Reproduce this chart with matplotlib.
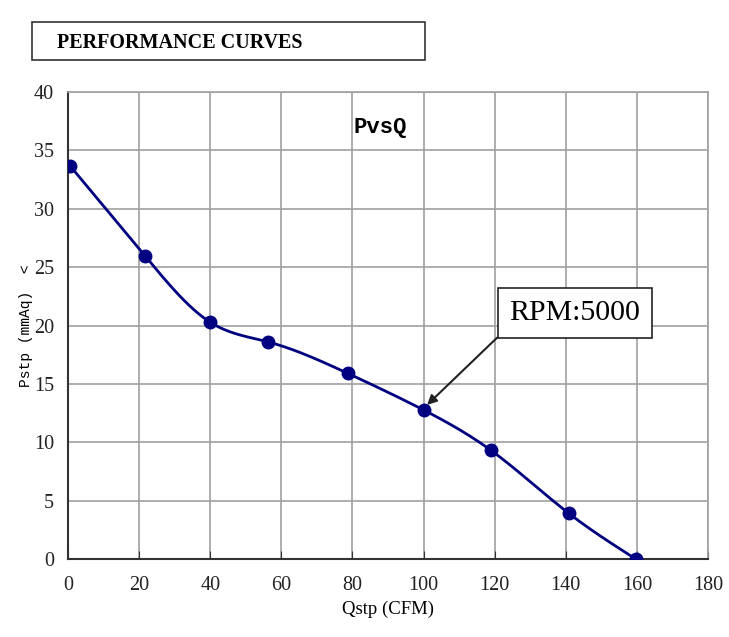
import numpy as np
import matplotlib
matplotlib.use("Agg")
import matplotlib.pyplot as plt
from matplotlib.patches import Rectangle

# Data
flow_cfm = [0.5, 21.7, 39.9, 56.2, 78.7, 100.1, 119.0, 140.9, 159.7]
pressure_mmaq = [33.7, 25.95, 20.3, 18.6, 15.9, 12.75, 9.3, 3.9, 0.0]
x_ticks = [0, 20, 40, 60, 80, 100, 120, 140, 160, 180]
y_ticks = [0, 5, 10, 15, 20, 25, 30, 35, 40]


def natural_spline(x, y, n=400):
    # natural cubic spline through the measured points, only used to draw the smooth line
    x = np.asarray(x, float)
    y = np.asarray(y, float)
    m = len(x)
    h = np.diff(x)
    A = np.zeros((m, m))
    b = np.zeros(m)
    A[0, 0] = A[-1, -1] = 1
    for i in range(1, m - 1):
        A[i, i - 1] = h[i - 1]
        A[i, i] = 2 * (h[i - 1] + h[i])
        A[i, i + 1] = h[i]
        b[i] = 3 * ((y[i + 1] - y[i]) / h[i] - (y[i] - y[i - 1]) / h[i - 1])
    c = np.linalg.solve(A, b)
    xs = np.linspace(x[0], x[-1], n)
    ys = np.empty_like(xs)
    for k, xv in enumerate(xs):
        i = min(np.searchsorted(x, xv, side="right") - 1, m - 2)
        dx = xv - x[i]
        bi = (y[i + 1] - y[i]) / h[i] - h[i] * (2 * c[i] + c[i + 1]) / 3
        di = (c[i + 1] - c[i]) / (3 * h[i])
        ys[k] = y[i] + bi * dx + c[i] * dx ** 2 + di * dx ** 3
    return xs, ys


fig = plt.figure(figsize=(7.29, 6.37), dpi=100)
ax = fig.add_axes([0.0933, 0.1224, 0.8779, 0.7332])

navy = "#000080"
xs, ys = natural_spline(flow_cfm, pressure_mmaq)
ax.plot(xs, ys, color=navy, linewidth=2, zorder=3)
ax.plot(flow_cfm, pressure_mmaq, "o", color=navy, markersize=9, zorder=4)

ax.set_xlim(0, 180)
ax.set_ylim(0, 40)
ax.set_xticks(x_ticks)
ax.set_yticks(y_ticks)
ax.grid(True, color="#a0a0a0", linewidth=1.2)
ax.set_axisbelow(True)
ax.tick_params(axis="x", direction="in", length=6, color="#333333", pad=12)
ax.tick_params(axis="y", length=0, pad=10)
for lbl in ax.get_xticklabels() + ax.get_yticklabels():
    lbl.set_fontfamily("Liberation Serif")
    lbl.set_fontsize(14.5)
    lbl.set_color("#222222")

for side in ["top", "right"]:
    ax.spines[side].set_color("#a0a0a0")
    ax.spines[side].set_linewidth(1.2)
for side in ["left", "bottom"]:
    ax.spines[side].set_color("#333333")
    ax.spines[side].set_linewidth(1.5)

ax.set_xlabel("Qstp (CFM)", fontfamily="Liberation Serif", fontsize=13.5, labelpad=4)
ax.set_ylabel("Pstp (mmAq)  <", fontfamily="Liberation Mono", fontsize=10.5, labelpad=1)

ax.text(87.7, 37.0, "PvsQ", fontfamily="Liberation Mono", fontweight="bold",
        fontsize=16, ha="center", va="center")

ax.annotate("RPM:5000", xy=(101.0, 13.2), xytext=(142.6, 21.1),
            fontfamily="Liberation Serif", fontsize=21.5, ha="center", va="center",
            bbox=dict(boxstyle="square,pad=0.4", fc="white", ec="#222222", lw=1.2),
            arrowprops=dict(arrowstyle="-|>", color="#222222", lw=1.5,
                            mutation_scale=14, shrinkA=0, shrinkB=0,
                            relpos=(0.0, 0.0)))

# header box
fig.patches.append(Rectangle((32 / 729, 1 - 60 / 637), 393 / 729, 38 / 637,
                             transform=fig.transFigure, fill=False,
                             edgecolor="#333333", linewidth=1.2))
fig.text(57 / 729, 1 - 43 / 637, "PERFORMANCE CURVES", fontfamily="Liberation Serif",
         fontweight="bold", fontsize=14.5, va="center", ha="left")

fig.savefig("out.png", dpi=100)
